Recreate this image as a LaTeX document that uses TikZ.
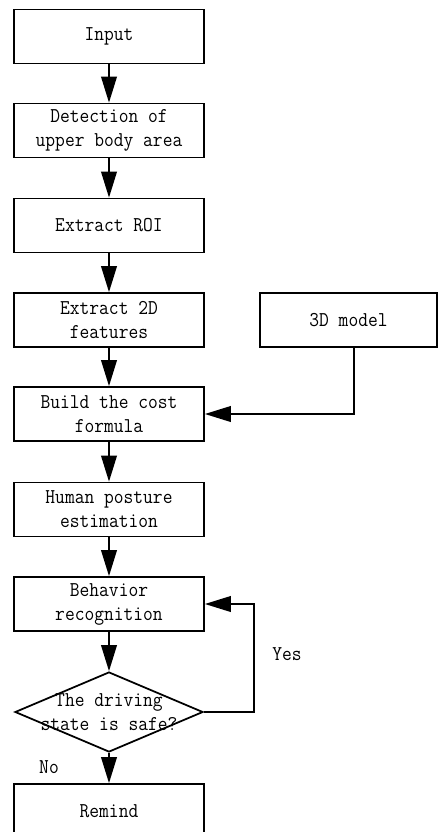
\documentclass[tikz,border=0pt]{standalone}
\usepackage{fontspec}
\newfontfamily\flowfont[FakeStretch=0.9]{Latin Modern Mono}
\usetikzlibrary{arrows.meta, shapes.geometric}
\tikzset{
  every picture/.style={line width=1.5pt, font=\flowfont\fontsize{18pt}{20.5pt}\selectfont},
  box/.style={draw, align=center, minimum width=5.7cm, minimum height=1.62cm, inner sep=0pt},
  arrow/.style={-{Triangle[length=0.78cm, width=0.47cm]}, line width=1.5pt},
  lbl/.style={align=center, inner sep=0pt},
}

\begin{document}
\begin{tikzpicture}[x=0.03cm, y=-0.03cm,
  dec/.style={draw, diamond, minimum width=5.64cm, minimum height=2.4cm, inner sep=0pt}]
  \clip (0, 0) rectangle (439, 832);
  \node[box] (input) at (109, 36.5) {Input};
  \node[box] (detect) at (109, 130.5) {Detection of\\upper body area};
  \node[box] (roi) at (109, 225.5) {Extract ROI};
  \node[box] (feat) at (109, 320) {Extract 2D\\features};
  \node[box, minimum width=5.31cm] (model) at (348.5, 320) {3D model};
  \node[box] (cost) at (109, 414) {Build the cost\\formula};
  \node[box] (pose) at (109, 509.5) {Human posture\\estimation};
  \node[box] (behav) at (109, 604) {Behavior\\recognition};
  \node[dec] (safe) at (109, 712) {};
  \node[lbl] (safetxt) at (109, 712) {The driving\\state is safe?};
  \node[box] (remind) at (109, 811) {Remind};
  \node[lbl] (yes) at (287, 654) {Yes}; \node[lbl] (no) at (49, 767) {No};
  % main chain
  \draw[arrow] (input) -- (detect); \draw[arrow] (detect) -- (roi); \draw[arrow] (roi) -- (feat);
  \draw[arrow] (feat) -- (cost); \draw[arrow] (cost) -- (pose); \draw[arrow] (pose) -- (behav);
  \draw[arrow] (behav) -- (safe); \draw[arrow] (safe) -- (remind);
  \draw[arrow] ([xshift=0.165cm]model.south) |- (cost.east);
  \draw[arrow] (safe.east) -- ++(50, 0) |- (behav.east);
\end{tikzpicture}
\end{document}
